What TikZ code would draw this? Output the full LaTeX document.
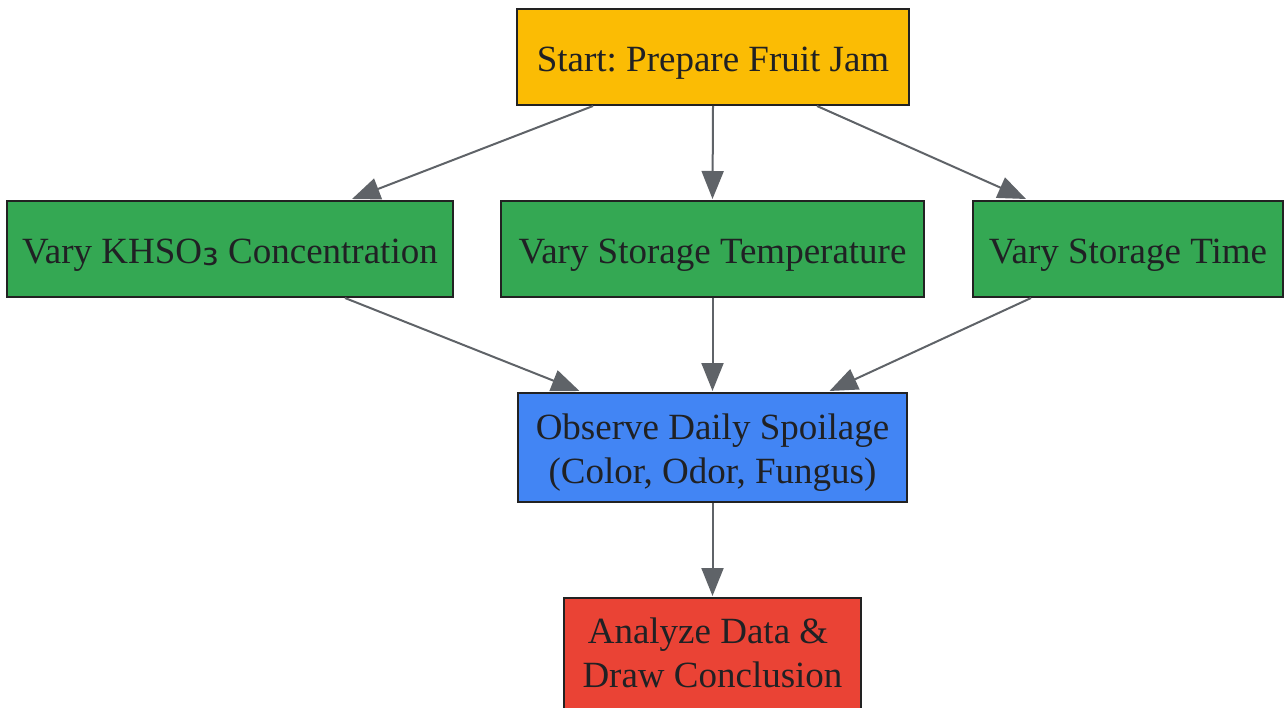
\documentclass[tikz,border=0pt]{standalone}
\usepackage{fontspec}
\setmainfont{Liberation Serif}
\newfontfamily\subfont{DejaVu Sans}
\usetikzlibrary{arrows.meta,calc}
\frenchspacing
\definecolor{cyellow}{HTML}{FBBC04}
\definecolor{cgreen}{HTML}{34A853}
\definecolor{cblue}{HTML}{4285F4}
\definecolor{cred}{HTML}{EA4335}
\definecolor{cedge}{HTML}{5F6368}
\definecolor{cborder}{HTML}{222222}
\definecolor{ctext}{HTML}{202124}
\tikzset{
  box/.style={draw=cborder, line width=2pt, inner sep=0pt},
  txt/.style={inner sep=0pt, align=center, text=ctext, font=\fontsize{37}{44}\selectfont\frenchspacing},
  one/.style={txt, text height=38pt, text depth=8pt},
  conn/.style={draw=cedge, line width=2pt, -{Triangle[length=28pt,width=22pt]}}
}
\begin{document}
\begin{tikzpicture}[x=1pt,y=1pt]
\useasboundingbox (0,0) rectangle (1284,-708);
\clip (0,0) rectangle (1284,-708);
\node[box, one, fill=cyellow, minimum width=392pt, minimum height=96pt] (start) at (713,-57) {Start: Prepare Fruit Jam};
\node[box, one, fill=cgreen, minimum width=446pt, minimum height=96pt] (khso) at (230,-249) {Vary KHSO\raisebox{-2pt}{\fontsize{42}{42}\selectfont\subfont ₃} Concentration};
\node[box, one, fill=cgreen, minimum width=423pt, minimum height=96pt] (temp) at (712.5,-249) {Vary Storage Temperature};
\node[box, one, fill=cgreen, minimum width=310pt, minimum height=96pt] (time) at (1128,-249) {Vary Storage Time};
\node[box, fill=cblue, minimum width=389pt, minimum height=109pt] (obs) at (712.5,-447.5) {};
\node[txt] (obstext) at ($(obs.center)+(0,-5)$) {Observe Daily Spoilage\\(Color, Odor, Fungus)};
\node[box, fill=cred, minimum width=297pt, minimum height=116pt] (ana) at (712.5,-656) {};
\node[txt] (anatext) at ($(ana.center)+(0,3)$) {Analyze Data \&\kern9pt\\Draw Conclusion};
\draw[conn] ([xshift=-120pt]start.south) -- ([xshift=122pt,yshift=1pt]khso.north);
\draw[conn] (start.south) -- ([yshift=1pt]temp.north);
\draw[conn] ([xshift=104pt]start.south) -- ([xshift=-102pt,yshift=1pt]time.north);
\draw[conn] ([xshift=115pt]khso.south) -- ([xshift=-133pt,yshift=1pt]obs.north);
\draw[conn] (temp.south) -- ([yshift=1pt]obs.north);
\draw[conn] ([xshift=-97pt]time.south) -- ([xshift=117pt,yshift=1pt]obs.north);
\draw[conn] (obs.south) -- ([yshift=1pt]ana.north);
\end{tikzpicture}
\end{document}
